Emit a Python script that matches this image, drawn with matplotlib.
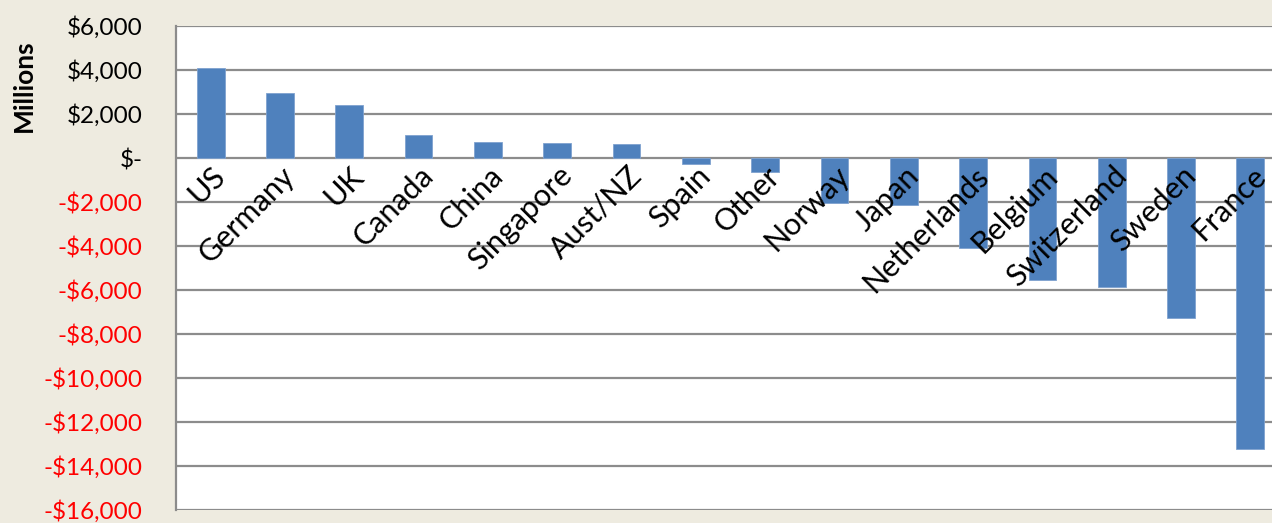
import matplotlib
matplotlib.use("Agg")
import matplotlib.pyplot as plt
from matplotlib.ticker import FuncFormatter

# values in $ millions
countries = ["US", "Germany", "UK", "Canada", "China", "Singapore", "Aust/NZ", "Spain",
             "Other", "Norway", "Japan", "Netherlands", "Belgium", "Switzerland", "Sweden", "France"]
values = [4100, 2950, 2400, 1050, 730, 700, 630, -260,
          -640, -2060, -2150, -4100, -5540, -5860, -7250, -13230]
yticks = list(range(-16000, 6001, 2000))

bg = "#EEEBE0"
bar_color = "#4F81BD"
grid_color = "#8C8C8C"
plt.rcParams["font.family"] = ["Lato", "DejaVu Sans"]

fig = plt.figure(figsize=(12.72, 5.23), dpi=100, facecolor=bg)
ax = fig.add_axes([176 / 1272, 13 / 523, 1109 / 1272, 484 / 523])
ax.set_facecolor("white")

x = list(range(len(countries)))
ax.bar(x, values, width=0.4, color=bar_color, edgecolor="#7FA2CF", linewidth=0.6, zorder=3)

ax.set_xlim(-0.5, len(countries) - 0.5)
ax.set_ylim(-16000, 6000)
ax.set_yticks(yticks)
ax.set_xticks([])
ax.yaxis.grid(True, color=grid_color, lw=1.6, zorder=0)
ax.set_axisbelow(True)


def money(v, pos=None):
    if v == 0:
        return "$-"
    s = "${:,.0f}".format(abs(v))
    return "-" + s if v < 0 else s


ax.yaxis.set_major_formatter(FuncFormatter(money))
ax.tick_params(axis="y", length=0, pad=24, labelsize=17.5)
for lbl, v in zip(ax.get_yticklabels(), yticks):
    lbl.set_color("red" if v < 0 else "black")

for side in ["top", "right", "bottom"]:
    ax.spines[side].set_visible(False)
ax.spines["left"].set_color(grid_color)
ax.spines["left"].set_linewidth(1.6)

# category labels sit just under the zero line, rotated like excel does it
for i, name in zip(x, countries):
    ax.text(i + 0.15, -600, name, rotation=45, rotation_mode="anchor",
            ha="right", va="center", fontsize=22, color="black", zorder=4)

fig.text(24 / 1272, 1 - 86 / 523, "Millions", rotation=90, ha="center", va="center",
         fontsize=19, fontweight="bold")

fig.savefig("out.png", dpi=100, facecolor=bg)
